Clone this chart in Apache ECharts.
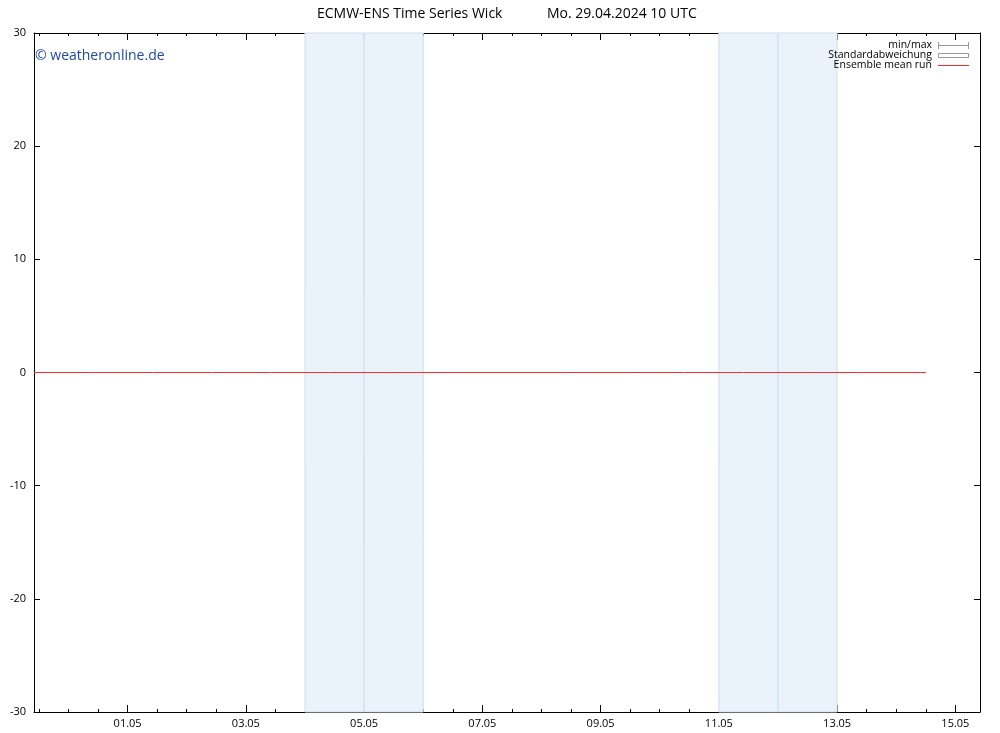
<!DOCTYPE html>
<html><head><meta charset="utf-8">
<script src="https://cdn.jsdelivr.net/npm/echarts@6/dist/echarts.min.js"></script>
<style>html,body{margin:0;padding:0;background:#fff}#c{width:1000px;height:733px}</style>
</head><body><div id="c"></div>
<script>
// ---- data ----
const axisStart = "2024-04-29T10:00:00Z";
const axisEnd = "2024-05-15T10:00:00Z";
const majorTickDates = ["2024-05-01","2024-05-03","2024-05-05","2024-05-07","2024-05-09","2024-05-11","2024-05-13","2024-05-15"];
const majorTickLabels = ["01.05","03.05","05.05","07.05","09.05","11.05","13.05","15.05"];
const yTicks = [-30,-20,-10,0,10,20,30];
const meanTimes = ["2024-04-29T10:00:00Z","2024-04-30T10:00:00Z","2024-05-01T10:00:00Z","2024-05-02T10:00:00Z","2024-05-03T10:00:00Z","2024-05-04T10:00:00Z","2024-05-05T10:00:00Z","2024-05-06T10:00:00Z","2024-05-07T10:00:00Z","2024-05-08T10:00:00Z","2024-05-09T10:00:00Z","2024-05-10T10:00:00Z","2024-05-11T10:00:00Z","2024-05-12T10:00:00Z","2024-05-13T10:00:00Z","2024-05-14T10:00:00Z","2024-05-14T12:00:00Z"];
const meanValues = [0,0,0,0,0,0,0,0,0,0,0,0,0,0,0,0,0];
const weekendDays = [["2024-05-04","2024-05-05"],["2024-05-05","2024-05-06"],["2024-05-11","2024-05-12"],["2024-05-12","2024-05-13"]];

// ---- build ----
const T = s => Date.parse(s.length === 10 ? s + "T00:00:00Z" : s);
const xMin = T(axisStart), xMax = T(axisEnd);
const H12 = 12 * 3600 * 1000;
const minorTicks = [];
for (let t = Math.ceil(xMin / H12) * H12; t <= xMax; t += H12) minorTicks.push(t);
const majorTicks = majorTickDates.map(T);
const labelOf = {};
majorTicks.forEach((t, i) => labelOf[t] = majorTickLabels[i]);

const FONT = "Open Sans";
const axBase = {type: 'value', min: xMin, max: xMax, splitLine: {show: false}};
const line = {show: true, onZero: false, lineStyle: {color: '#000', width: 1}};
const noLine = {show: false, onZero: false};
const xAxes = [
  Object.assign({}, axBase, {position: 'bottom', axisLine: line,
    axisTick: {show: true, inside: true, length: 7, lineStyle: {color: '#000'}, customValues: majorTicks},
    axisLabel: {show: true, customValues: majorTicks, formatter: v => labelOf[v] || '', color: '#000', fontFamily: FONT, fontSize: 11, margin: 6}}),
  Object.assign({}, axBase, {position: 'bottom', axisLine: noLine,
    axisTick: {show: true, inside: true, length: 3, lineStyle: {color: '#000'}, customValues: minorTicks},
    axisLabel: {show: false}}),
  Object.assign({}, axBase, {position: 'top', axisLine: line,
    axisTick: {show: true, inside: true, length: 7, lineStyle: {color: '#000'}, customValues: majorTicks},
    axisLabel: {show: false}}),
  Object.assign({}, axBase, {position: 'top', axisLine: noLine,
    axisTick: {show: true, inside: true, length: 3, lineStyle: {color: '#000'}, customValues: minorTicks},
    axisLabel: {show: false}})
];
const yBase = {type: 'value', min: yTicks[0], max: yTicks[yTicks.length - 1], interval: 10, splitLine: {show: false}, axisLine: line,
  axisTick: {show: true, inside: true, length: 6, lineStyle: {color: '#000'}}};
const yAxes = [
  Object.assign({}, yBase, {position: 'left', axisLabel: {show: true, color: '#000', fontFamily: FONT, fontSize: 11, margin: 8}}),
  Object.assign({}, yBase, {position: 'right', axisLabel: {show: false}})
];

const chart = echarts.init(document.getElementById('c'), null, {renderer: 'canvas'});
chart.setOption({
  animation: false,
  grid: {left: 34, right: 20, top: 33, bottom: 21, containLabel: false},
  xAxis: xAxes,
  yAxis: yAxes,
  series: [{
    type: 'line', xAxisIndex: 0, yAxisIndex: 0,
    data: meanTimes.map((t, i) => [T(t), meanValues[i]]),
    showSymbol: false, lineStyle: {color: '#ff2a2a', width: 1}, z: 5,
    markArea: {silent: true,
      itemStyle: {color: 'rgba(234,242,250,1)', borderColor: '#cddff0', borderWidth: 1},
      data: weekendDays.map(d => [{xAxis: T(d[0])}, {xAxis: T(d[1])}])}
  }],
  graphic: [
    {type: 'text', left: 317, top: 7, z: 100, style: {text: 'ECMW-ENS Time Series Wick', fontFamily: FONT, fontSize: 14, fill: '#000'}},
    {type: 'text', left: 547, top: 7, z: 100, style: {text: 'Mo. 29.04.2024 10 UTC', fontFamily: FONT, fontSize: 14, fill: '#000'}},
    {type: 'text', left: 35, top: 49, z: 100, style: {text: '© weatheronline.de', fontFamily: FONT, fontSize: 14, fill: '#1f48a8'}},
    {type: 'text', right: 68, top: 40, z: 100, style: {text: 'min/max', fontFamily: FONT, fontSize: 10.5, fill: '#000', align: 'right'}},
    {type: 'text', right: 68, top: 50, z: 100, style: {text: 'Standardabweichung', fontFamily: FONT, fontSize: 10.5, fill: '#000', align: 'right'}},
    {type: 'text', right: 68, top: 60, z: 100, style: {text: 'Ensemble mean run', fontFamily: FONT, fontSize: 10.5, fill: '#000', align: 'right'}},
    {type: 'line', z: 100, shape: {x1: 938, y1: 45.5, x2: 969, y2: 45.5}, style: {stroke: '#999', lineWidth: 1}},
    {type: 'line', z: 100, shape: {x1: 938.5, y1: 42, x2: 938.5, y2: 49}, style: {stroke: '#999', lineWidth: 1}},
    {type: 'line', z: 100, shape: {x1: 968.5, y1: 42, x2: 968.5, y2: 49}, style: {stroke: '#999', lineWidth: 1}},
    {type: 'rect', z: 100, shape: {x: 938.5, y: 53.5, width: 30, height: 4}, style: {stroke: '#999', fill: '#fff', lineWidth: 1}},
    {type: 'line', z: 100, shape: {x1: 938, y1: 65.5, x2: 969, y2: 65.5}, style: {stroke: '#ff2a2a', lineWidth: 1}}
  ]
});
</script></body></html>
